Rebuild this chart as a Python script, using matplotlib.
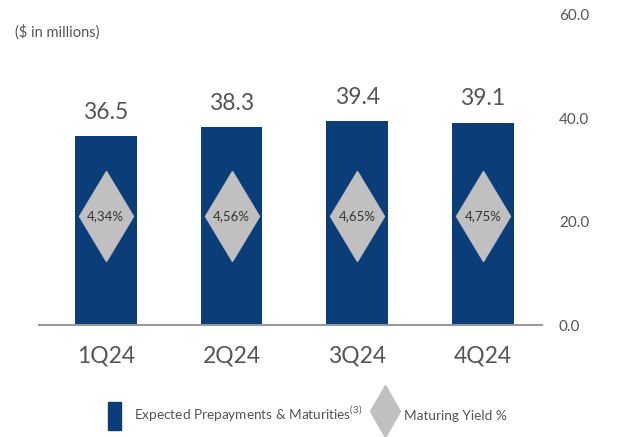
import matplotlib
matplotlib.use('Agg')
import matplotlib.pyplot as plt
from matplotlib.patches import Patch
from matplotlib.lines import Line2D

plt.rcParams['font.family'] = ['Lato', 'DejaVu Sans']
plt.rcParams['mathtext.fontset'] = 'custom'
plt.rcParams['mathtext.rm'] = 'Lato'

# quarterly data
quarters = ['1Q24', '2Q24', '3Q24', '4Q24']
prepayments = [36.5, 38.3, 39.4, 39.1]
yields = [4.34, 4.56, 4.65, 4.75]
y_ticks = [0, 20, 40, 60]

bar_color = '#0b3d78'
diamond_color = '#c0c0c0'
text_color = '#555555'

fig = plt.figure(figsize=(6.21, 4.37), dpi=100)
ax = fig.add_axes([0.063, 0.256, 0.81, 0.71])

x = range(len(quarters))
ax.bar(x, prepayments, width=0.49, color=bar_color, zorder=2)

for xi, v in zip(x, prepayments):
    ax.text(xi, v + 2.6, f'{v:.1f}', ha='center', va='bottom',
            fontsize=16.5, color=text_color)

# yield diamonds sit at a fixed height inside the bars
trans = ax.get_xaxis_transform()
for xi, yv in zip(x, yields):
    ax.plot(xi, 0.352, marker='d', markersize=46, color=diamond_color,
            transform=trans, zorder=3, linestyle='none')
    ax.text(xi, 0.352, f'{yv:.2f}%'.replace('.', ','), transform=trans,
            ha='center', va='center', fontsize=9.5, color='#333333', zorder=4)

ax.set_xlim(-0.53, 3.47)
ax.set_ylim(0, 60)
ax.set_xticks(list(x))
ax.set_xticklabels(quarters, fontsize=16.5, color=text_color)
ax.yaxis.tick_right()
ax.set_yticks(y_ticks)
ax.set_yticklabels([f'{t:.1f}' for t in y_ticks], fontsize=11, color=text_color)
ax.tick_params(axis='y', length=0, pad=12)
ax.tick_params(axis='x', length=0, pad=15)
for s in ['top', 'left', 'right']:
    ax.spines[s].set_visible(False)
ax.spines['bottom'].set_color('#999999')
ax.spines['bottom'].set_linewidth(1.5)

fig.text(0.024, 0.927, '($ in millions)', fontsize=10.5, color=text_color,
         va='center')

handles = [Patch(color=bar_color),
           Line2D([], [], marker='d', markersize=26, color=diamond_color,
                  linestyle='none')]
labels = ['Expected Prepayments & Maturities$^{\\mathregular{(3)}}$',
          'Maturing Yield %']
fig.legend(handles, labels, loc='center', bbox_to_anchor=(0.495, 0.048),
           ncol=2, frameon=False, fontsize=9.8, handlelength=1.0,
           handleheight=2.8, columnspacing=1.2, handletextpad=0.9,
           labelcolor=text_color)

fig.savefig('out.png', dpi=100)
